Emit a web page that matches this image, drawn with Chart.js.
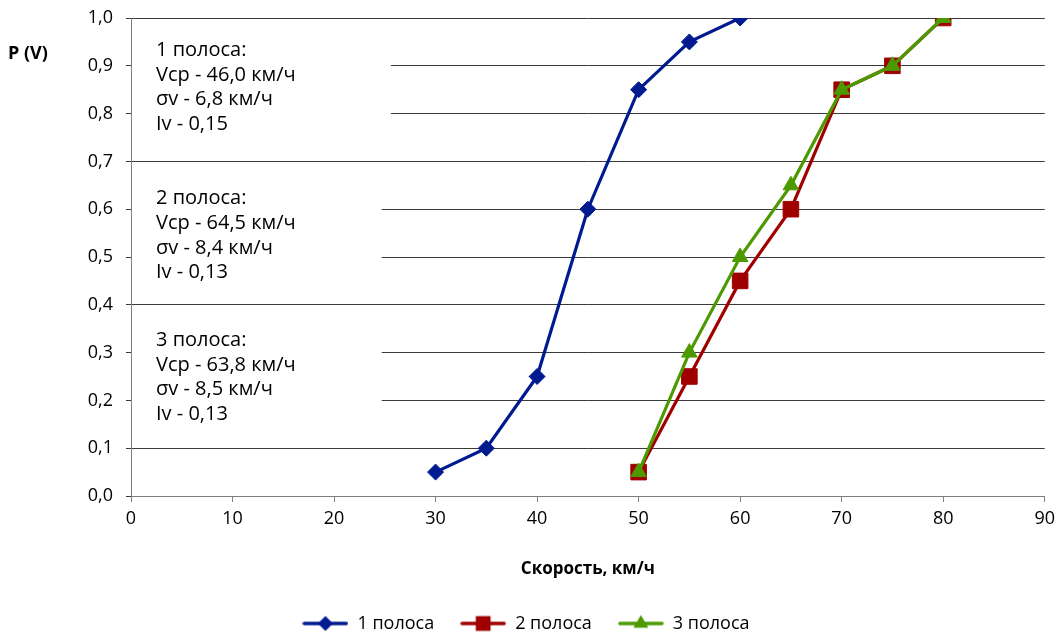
<!DOCTYPE html>
<html><head><meta charset="utf-8">
<script src="https://cdn.jsdelivr.net/npm/chart.js@4"></script>
<style>html,body{margin:0;padding:0;background:#fff}#wrap{width:1061px;height:633px}</style>
</head><body>
<div id="wrap"><canvas id="c" width="1061" height="633"></canvas></div>
<script>
// ---- data ----
const seriesNames = ['1 полоса', '2 полоса', '3 полоса'];
const speeds1 = [30, 35, 40, 45, 50, 55, 60];
const prob1   = [0.05, 0.10, 0.25, 0.60, 0.85, 0.95, 1.00];
const speeds2 = [50, 55, 60, 65, 70, 75, 80];
const prob2   = [0.05, 0.25, 0.45, 0.60, 0.85, 0.90, 1.00];
const speeds3 = [50, 55, 60, 65, 70, 75, 80];
const prob3   = [0.05, 0.30, 0.50, 0.65, 0.85, 0.90, 1.00];
const xTickValues = [0, 10, 20, 30, 40, 50, 60, 70, 80, 90];
const yTickValues = [0, 0.1, 0.2, 0.3, 0.4, 0.5, 0.6, 0.7, 0.8, 0.9, 1.0];
const xTitle = 'Скорость, км/ч';
const yTitle = 'P (V)';
const note1 = ['1 полоса:', 'Vcp - 46,0 км/ч', 'σv - 6,8 км/ч', 'Iv - 0,15'];
const note2 = ['2 полоса:', 'Vcp - 64,5 км/ч', 'σv - 8,4 км/ч', 'Iv - 0,13'];
const note3 = ['3 полоса:', 'Vcp - 63,8 км/ч', 'σv - 8,5 км/ч', 'Iv - 0,13'];

const FONT = '"Open Sans", "Noto Sans", sans-serif';
const colors = ['#001A8F', '#A00000', '#4C9A00'];
const styles = ['rectRot', 'rect', 'triangle'];
const radii = [8, 11, 9];

function pts(xs, ys) { return xs.map((x, i) => ({x: x, y: ys[i]})); }

function markerPath(ctx, style, r, x, y) {
  ctx.beginPath();
  if (style === 'rectRot') {
    ctx.moveTo(x, y - r); ctx.lineTo(x + r, y); ctx.lineTo(x, y + r); ctx.lineTo(x - r, y);
  } else if (style === 'rect') {
    const s = Math.SQRT1_2 * r;
    ctx.rect(x - s, y - s, 2 * s, 2 * s);
  } else {
    const a = 2 * Math.PI / 3;
    ctx.moveTo(x, y - r);
    ctx.lineTo(x + Math.sin(a) * r, y - Math.cos(a) * r);
    ctx.lineTo(x + Math.sin(2 * a) * r, y - Math.cos(2 * a) * r);
  }
  ctx.closePath();
}
function legendIcon(i) {
  const c = document.createElement('canvas');
  c.width = 46; c.height = 22;
  const g = c.getContext('2d');
  g.strokeStyle = colors[i]; g.lineWidth = 3.5; g.lineCap = 'round';
  g.beginPath(); g.moveTo(2, 11); g.lineTo(44, 11); g.stroke();
  g.fillStyle = colors[i];
  markerPath(g, styles[i], radii[i] * 0.95, 23, 11);
  g.fill();
  return c;
}
const icons = [0, 1, 2].map(legendIcon);

const notesPlugin = {
  id: 'notes',
  beforeDatasetsDraw(chart) {
    const {ctx, scales: {x, y}} = chart;
    const left = x.getPixelForValue(0) + 1;
    const boxes = [
      {lines: note1, top: 0.965, bottom: 0.74, right: 25.6, first: 0.933},
      {lines: note2, top: 0.665, bottom: 0.44, right: 24.7, first: 0.623},
      {lines: note3, top: 0.37,  bottom: 0.14, right: 24.7, first: 0.326}
    ];
    ctx.save();
    boxes.forEach(b => {
      const t = y.getPixelForValue(b.top), bt = y.getPixelForValue(b.bottom);
      ctx.fillStyle = '#ffffff';
      ctx.fillRect(left, t, x.getPixelForValue(b.right) - left, bt - t);
      ctx.fillStyle = '#000000';
      ctx.font = '20px ' + FONT;
      ctx.textBaseline = 'middle';
      ctx.textAlign = 'left';
      const y0 = y.getPixelForValue(b.first);
      b.lines.forEach((s, k) => ctx.fillText(s, 156, y0 + k * 24.8));
    });
    ctx.restore();
  },
  afterDraw(chart) {
    const {ctx} = chart;
    ctx.save();
    ctx.fillStyle = '#000';
    ctx.font = 'bold 18px ' + FONT;
    ctx.textBaseline = 'middle';
    ctx.textAlign = 'left';
    ctx.fillText(yTitle, 8, 54);
    ctx.restore();
  }
};

const data = {
  datasets: [
    {label: seriesNames[0], data: pts(speeds1, prob1), order: 2},
    {label: seriesNames[1], data: pts(speeds2, prob2), order: 1},
    {label: seriesNames[2], data: pts(speeds3, prob3), order: 0}
  ].map((d, i) => Object.assign(d, {
    borderColor: colors[i], backgroundColor: colors[i], borderWidth: 3.2,
    pointStyle: styles[i], pointRadius: radii[i], pointHoverRadius: radii[i],
    pointBorderWidth: 1, pointBorderColor: colors[i], pointBackgroundColor: colors[i],
    tension: 0, fill: false, showLine: true
  }))
};

new Chart(document.getElementById('c'), {
  type: 'scatter',
  data: data,
  plugins: [notesPlugin],
  options: {
    responsive: false, animation: false, devicePixelRatio: 1,
    layout: {padding: {top: 18, right: 14, left: 5, bottom: -9.5}},
    plugins: {
      tooltip: {enabled: false},
      legend: {
        position: 'bottom',
        labels: {
          usePointStyle: true, pointStyleWidth: 46, padding: 26,
          color: '#000', font: {size: 18, family: FONT},
          generateLabels(chart) {
            return chart.data.datasets.map((ds, i) => ({
              text: ds.label, pointStyle: icons[i], fillStyle: colors[i],
              strokeStyle: colors[i], lineWidth: 0, hidden: false,
              datasetIndex: i, fontColor: '#000'
            }));
          }
        }
      }
    },
    scales: {
      x: {
        type: 'linear', min: 0, max: 90,
        afterBuildTicks(s) { s.ticks = xTickValues.map(v => ({value: v})); },
        ticks: {color: '#000', font: {size: 18, family: FONT}, padding: 6, maxRotation: 0,
                callback: v => String(v)},
        grid: {drawOnChartArea: false, drawTicks: true, tickLength: 6, color: '#808080', lineWidth: 1},
        border: {display: true, color: '#808080', width: 1},
        title: {display: true, text: xTitle, color: '#000',
                font: {size: 17, weight: 'bold', family: FONT}, padding: {top: 0, bottom: 9}},
        afterFit(s) { s.height = 92.5; }
      },
      y: {
        type: 'linear', min: 0, max: 1,
        afterBuildTicks(s) { s.ticks = yTickValues.map(v => ({value: v})); },
        ticks: {color: '#000', font: {size: 18, family: FONT}, padding: 13,
                callback: v => v.toFixed(1).replace('.', ',')},
        grid: {drawTicks: true, tickLength: 5, color: '#3a3a3a', lineWidth: 1},
        border: {display: true, color: '#808080', width: 1},
        afterFit(s) { s.width = 126; s.paddingTop = 0; s.paddingBottom = 0; }
      }
    }
  }
});
</script>
</body></html>
